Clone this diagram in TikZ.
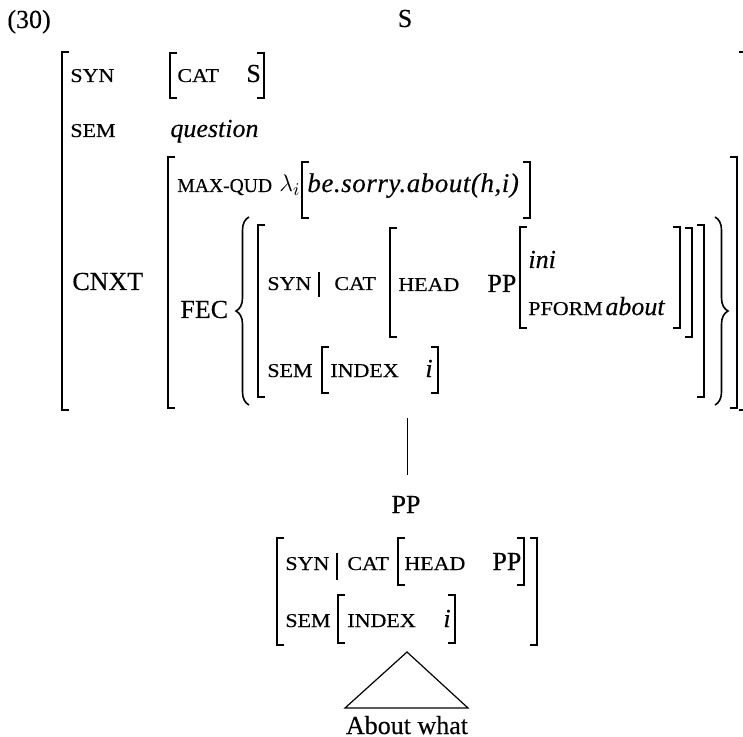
\documentclass[tikz,border=0pt]{standalone}
\usepackage{fontspec}
\setmainfont[FakeBold=0.3]{Liberation Serif}
\newfontfamily\scfont[FakeStretch=1.12, FakeBold=0.3]{Liberation Serif}
\newfontfamily\scnarrow[FakeBold=0.3]{Liberation Serif}
\usetikzlibrary{decorations.pathreplacing}
% square brackets of the feature structures: x, top y, bottom y
\newcommand{\avmL}[3]{\draw[brk] (#1+7,#2) -- (#1,#2) -- (#1,#3) -- (#1+7,#3);}
\newcommand{\avmR}[3]{\draw[brk] (#1-7,#2) -- (#1,#2) -- (#1,#3) -- (#1-7,#3);}

\begin{document}
\begin{tikzpicture}[x=0.5pt, y=-0.5pt,
  txt/.style={inner sep=0pt, anchor=base west, font=\fontsize{13}{15}\selectfont},
  feat/.style={txt, font=\fontsize{9.8}{11}\scfont},
  val/.style={txt, font=\fontsize{13}{15}\selectfont\itshape},
  cat/.style={txt, anchor=base},
  brk/.style={line width=0.7pt},
  brc/.style={line width=0.8pt, decorate, decoration={brace, amplitude=6.5pt}},
]
  \useasboundingbox (0,0) rectangle (743,737);

  \node[txt] (num) at (7,28) {(30)};
  \node[cat] (s) at (405,27) {S};

  % mother node
  \avmL{62}{52}{410}
  \draw[brk] (739,52) -- (745,52) -- (745,410) -- (739,410);
  \node[feat] (syn) at (70,82) {SYN};
  \avmL{170}{53}{98}
  \node[feat] (syncat) at (177,82) {CAT};
  \node[txt] (syncatv) at (246,82) {S};
  \avmR{264}{53}{98}
  \node[feat] (sem) at (70,137) {SEM};
  \node[val] (semv) at (170,137) {question};
  \node[txt] (cnxt) at (72,290) {CNXT};

  \avmL{168}{157}{408}
  \avmR{737}{157}{408}
  \node[feat, font=\fontsize{9.8}{11}\scnarrow] (maxqud) at (177,192) {MAX-QUD};
  \node[txt] (lam) at (279,192) {$\lambda_i$};
  \avmL{302}{162}{218}
  \node[val, font=\fontsize{13.5}{15}\selectfont\itshape\addfontfeature{LetterSpace=2}] (qud) at (307,192) {be.sorry.about(h,i)};
  \avmR{530}{162}{218}

  \node[txt] (fec) at (180,318) {FEC};
  \draw[brc] (249,405) -- (249,217);
  \draw[brc] (715,217) -- (715,405);
  \avmL{258}{225}{397}
  \avmR{704}{225}{397}
  \node[feat] (fsyn) at (267,290) {SYN};
  \draw[brk] (319,272) -- (319,297);
  \node[feat] (fcat) at (334,290) {CAT};
  \avmL{390}{228}{337}
  \avmR{692}{228}{337}
  \node[feat] (fhead) at (398,291) {HEAD};
  \node[txt] (fpp) at (487,292) {PP};
  \avmL{520}{227}{328}
  \avmR{680}{227}{328}
  \node[val] (ini) at (528,268) {ini};
  \node[feat] (pform) at (528,315) {PFORM};
  \node[val] (about) at (605,315) {about};
  \node[feat] (fsem) at (267,377) {SEM};
  \avmL{322}{347}{393}
  \node[feat] (findex) at (330,377) {INDEX};
  \node[val] (fi) at (425,377) {i};
  \avmR{438}{347}{393}

  % branch to the daughter
  \coordinate (stemtop) at (407,418);
  \coordinate (stembot) at (407,475);
  \draw[line width=0.5pt] (stemtop) -- (stembot);
  \node[cat] (pp) at (406,513) {PP};

  \avmL{277}{538}{645}
  \avmR{537}{538}{645}
  \node[feat] (dsyn) at (285,570) {SYN};
  \draw[brk] (337,553) -- (337,580);
  \node[feat] (dcat) at (347,570) {CAT};
  \avmL{398}{538}{585}
  \node[feat] (dhead) at (404,570) {HEAD};
  \node[txt] (dpp) at (492,570) {PP};
  \avmR{524}{538}{585}
  \node[feat] (dsem) at (285,627) {SEM};
  \avmL{338}{595}{643}
  \node[feat] (dindex) at (347,627) {INDEX};
  \node[val] (di) at (443,627) {i};
  \avmR{455}{595}{643}

  \coordinate (apex) at (407,652);
  \coordinate (baseL) at (345,708);
  \coordinate (baseR) at (468,708);
  \draw[line width=0.6pt] (apex) -- (baseL) -- (baseR) -- cycle;
  \node[cat] (words) at (407,734) {About what};
\end{tikzpicture}
\end{document}
